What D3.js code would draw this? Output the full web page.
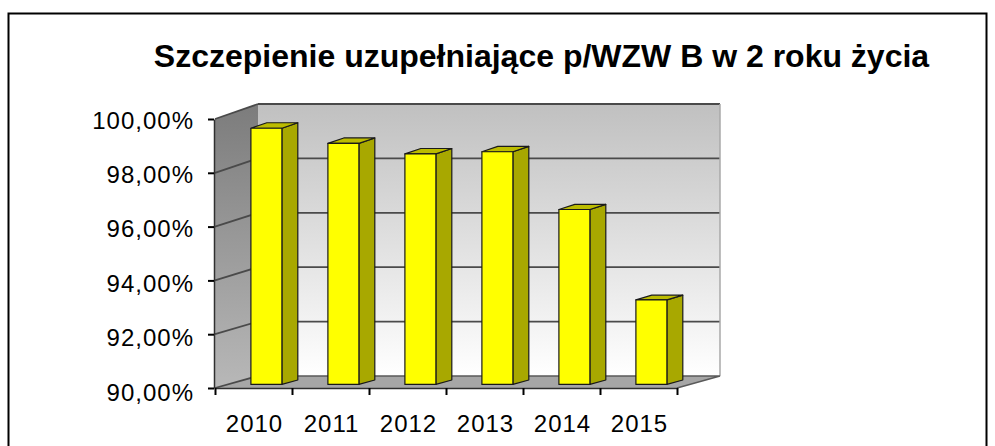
<!DOCTYPE html>
<html>
<head>
<meta charset="utf-8">
<script src="https://cdn.jsdelivr.net/npm/d3@7"></script>
<style>
  html, body { margin: 0; padding: 0; background: #fff; }
  svg { display: block; font-family: "Liberation Sans", Arial, sans-serif; }
</style>
</head>
<body>
<svg id="chart" width="995" height="446"></svg>
<script>
// ---- data ----
const title = "Szczepienie uzupełniające p/WZW B w 2 roku życia";
const years = ["2010", "2011", "2012", "2013", "2014", "2015"];
const values = [99.49, 98.93, 98.54, 98.62, 96.48, 93.13];
const yTicks = [90, 92, 94, 96, 98, 100];
const yTickLabels = ["90,00%", "92,00%", "94,00%", "96,00%", "98,00%", "100,00%"];

// ---- layout ----
const svg = d3.select("#chart");
const defs = svg.append("defs");

const xF = d3.scaleBand().domain(years).range([215, 677]);       // front plane
const xEdge = d3.scaleLinear().domain([0, years.length]).range([215, 677]);
const yF = d3.scaleLinear().domain([90, 100]).range([388, 119]);  // front plane
const yB = d3.scaleLinear().domain([90, 100]).range([376, 104]);  // back plane
const DX = 43;
const pt = (x, v, f) => [x + DX * f, yF(v) + (yB(v) - yF(v)) * f];
const poly = pts => pts.map(p => p.join(",")).join(" ");

// chart border
svg.append("rect").attr("x", 8.5).attr("y", 13.5).attr("width", 978).attr("height", 460)
  .attr("fill", "#fff").attr("stroke", "#000").attr("stroke-width", 2);

// gradients
const gBack = defs.append("linearGradient").attr("id", "gBack").attr("x1", 0).attr("y1", 0).attr("x2", 0).attr("y2", 1);
gBack.append("stop").attr("offset", 0).attr("stop-color", "#c0c0c0");
gBack.append("stop").attr("offset", 1).attr("stop-color", "#ffffff");
const gSide = defs.append("linearGradient").attr("id", "gSide").attr("x1", 0).attr("y1", 0).attr("x2", 0).attr("y2", 1);
gSide.append("stop").attr("offset", 0).attr("stop-color", "#7c7c7c");
gSide.append("stop").attr("offset", 1).attr("stop-color", "#b8b8b8");

const x0 = xEdge(0), x1 = xEdge(years.length);

// back wall
svg.append("polygon")
  .attr("points", poly([pt(x0, 100, 1), pt(x1, 100, 1), pt(x1, 90, 1), pt(x0, 90, 1)]))
  .attr("fill", "url(#gBack)");
// side wall
svg.append("polygon")
  .attr("points", poly([pt(x0, 100, 0), pt(x0, 100, 1), pt(x0, 90, 1), pt(x0, 90, 0)]))
  .attr("fill", "url(#gSide)");
// floor
svg.append("polygon")
  .attr("points", poly([pt(x0, 90, 0), pt(x0, 90, 1), pt(x1, 90, 1), pt(x1, 90, 0)]))
  .attr("fill", "#a6a6a6");

// gridlines on back and side walls
const grid = svg.append("g").attr("stroke", "#4a4a4a").attr("stroke-width", 1.8).attr("fill", "none");
yTicks.forEach(v => {
  if (v > 90) {
    grid.append("line")
      .attr("x1", pt(x0, v, 1)[0]).attr("y1", pt(x0, v, 1)[1])
      .attr("x2", pt(x1, v, 1)[0]).attr("y2", pt(x1, v, 1)[1]);
  }
  grid.append("line")
    .attr("x1", pt(x0, v, 0)[0]).attr("y1", pt(x0, v, 0)[1])
    .attr("x2", pt(x0, v, 1)[0]).attr("y2", pt(x0, v, 1)[1]);
});
// back wall right edge
svg.append("line")
  .attr("x1", pt(x1, 100, 1)[0]).attr("y1", pt(x1, 100, 1)[1])
  .attr("x2", pt(x1, 90, 1)[0]).attr("y2", pt(x1, 90, 1)[1])
  .attr("stroke", "#a8a8a8").attr("stroke-width", 1.5);
// floor edges
svg.append("polyline")
  .attr("points", poly([pt(x0, 90, 1), pt(x1, 90, 1), pt(x1, 90, 0)]))
  .attr("fill", "none").attr("stroke", "#5a5a5a").attr("stroke-width", 1.5);

// bars
const bw = 31, f0 = 0.3, f1 = 0.67;
const bars = svg.append("g").selectAll("g").data(years.map((y, i) => ({ y, v: values[i] }))).join("g");
bars.each(function (d) {
  const g = d3.select(this);
  const c = xF(d.y) + xF.bandwidth() / 2;
  const L = c - bw / 2, R = c + bw / 2;
  const ftl = pt(L, d.v, f0), ftr = pt(R, d.v, f0), fbl = pt(L, 90, f0), fbr = pt(R, 90, f0);
  const btl = pt(L, d.v, f1), btr = pt(R, d.v, f1), bbr = pt(R, 90, f1);
  g.append("polygon").attr("points", poly([ftr, btr, bbr, fbr]))
    .attr("fill", "#a8a800").attr("stroke", "#1a1a1a").attr("stroke-width", 1.2).attr("stroke-linejoin", "round");
  g.append("polygon").attr("points", poly([ftl, btl, btr, ftr]))
    .attr("fill", "#bcbc00").attr("stroke", "#1a1a1a").attr("stroke-width", 1.2).attr("stroke-linejoin", "round");
  g.append("polygon").attr("points", poly([ftl, ftr, fbr, fbl]))
    .attr("fill", "#ffff00").attr("stroke", "#1a1a1a").attr("stroke-width", 1.2).attr("stroke-linejoin", "round");
});

// value axis (front-left edge)
const yAxis = d3.axisLeft(yF).tickValues(yTicks).tickSize(6).tickSizeOuter(0).tickFormat("");
svg.append("g").attr("transform", `translate(${x0 - 1},0)`).call(yAxis)
  .call(g => g.select(".domain").attr("stroke", "#303030").attr("stroke-width", 1.5))
  .call(g => g.selectAll(".tick line").attr("stroke", "#000").attr("stroke-width", 2));
svg.append("g").selectAll("text").data(yTicks).join("text")
  .attr("x", 194).attr("y", v => yB(v) + 24.5)
  .attr("text-anchor", "end").attr("font-size", 24).attr("letter-spacing", 1)
  .attr("fill", "#000")
  .text((v, i) => yTickLabels[i]);

// category axis (front floor edge)
const xTickAxis = d3.axisBottom(xEdge).tickValues(d3.range(years.length + 1)).tickSize(7).tickSizeOuter(0).tickFormat("");
svg.append("g").attr("transform", `translate(0,${yF(90)})`).call(xTickAxis)
  .call(g => g.select(".domain").attr("stroke", "#303030").attr("stroke-width", 1.5))
  .call(g => g.selectAll(".tick line").attr("stroke", "#000").attr("stroke-width", 2));
const xLabelAxis = d3.axisBottom(xF).tickSize(0).tickPadding(0);
svg.append("g").attr("transform", `translate(1,${yF(90)})`).call(xLabelAxis)
  .call(g => g.select(".domain").remove())
  .call(g => g.selectAll("text").attr("font-size", 24).attr("letter-spacing", 1)
    .attr("font-family", "Liberation Sans, Arial, sans-serif").attr("fill", "#000")
    .attr("dy", null).attr("y", 44));

// title
svg.append("text").attr("x", 541.5).attr("y", 66.5).attr("text-anchor", "middle")
  .attr("font-size", 32).attr("font-weight", "bold").attr("fill", "#000")
  .text(title);
</script>
</body>
</html>
